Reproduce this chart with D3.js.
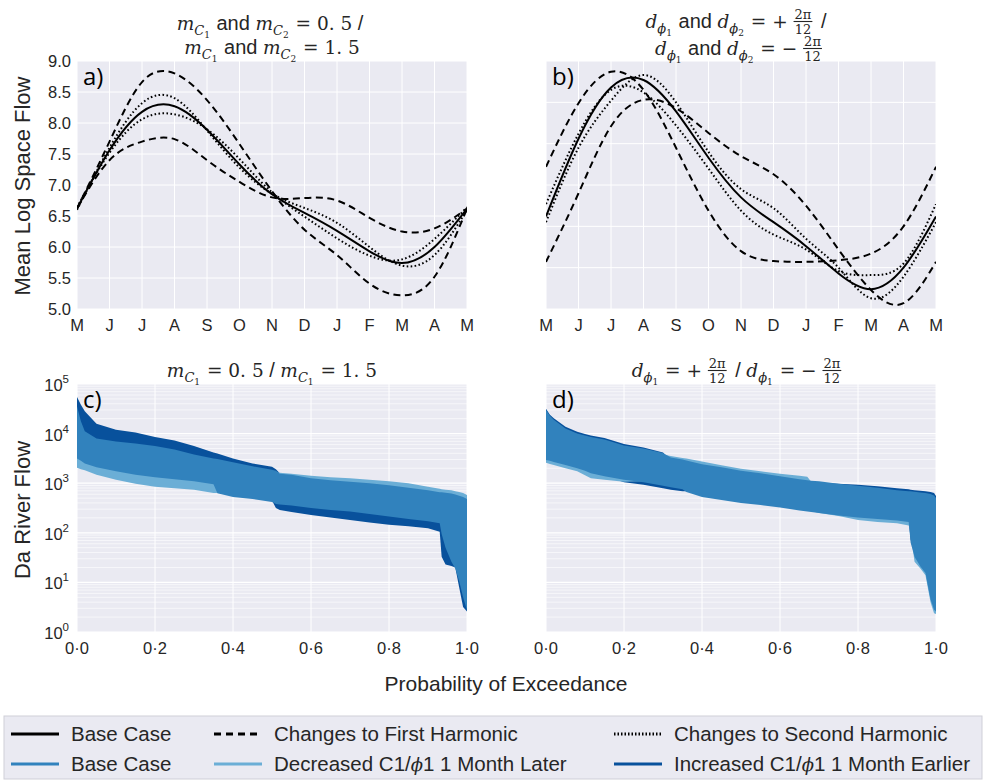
<!DOCTYPE html>
<html lang="en">
<head>
<meta charset="UTF-8">
<title>Seasonal harmonics and flow duration</title>
<script src="https://cdn.jsdelivr.net/npm/d3@7"></script>
<style>
    body { margin: 0; background: #fff; }
    text { fill: #262626; }
    .tick { font-family: "Liberation Sans", Arial, sans-serif; font-size: 16.5px; }
    .axlabel { font-family: "Liberation Sans", Arial, sans-serif; font-size: 21px; }
    .letter { font-family: "Open Sans", sans-serif; font-size: 24px; fill: #000; }
    .legend { font-family: "Liberation Sans", Arial, sans-serif; font-size: 20.5px; }
</style>
</head>
<body>
<svg id="chart" width="985" height="780"></svg>
<script>
// month labels, May to May
const months = ["M", "J", "J", "A", "S", "O", "N", "D", "J", "F", "M", "A", "M"];

// mean log space flow, one value per month tick
const baseCase       = [6.62, 7.56, 8.18, 8.27, 7.89, 7.33, 6.85, 6.55, 6.26, 5.93, 5.74, 6.00, 6.62];
// panel a: amplitude changes
const firstHarmHigh  = [6.62, 7.70, 8.66, 8.80, 8.37, 7.66, 6.90, 6.28, 5.87, 5.41, 5.22, 5.52, 6.62];
const firstHarmLow   = [6.62, 7.40, 7.70, 7.74, 7.40, 7.05, 6.80, 6.79, 6.75, 6.47, 6.25, 6.30, 6.62];
const secondHarmHigh = [6.60, 7.60, 8.32, 8.40, 7.88, 7.28, 6.86, 6.63, 6.39, 6.00, 5.70, 5.87, 6.60];
const secondHarmLow  = [6.64, 7.52, 8.06, 8.14, 7.90, 7.42, 6.88, 6.49, 6.14, 5.86, 5.80, 6.13, 6.64];
// panel b: phase changes
const firstPhaseEarly  = [7.22, 7.99, 8.37, 8.15, 7.45, 6.69, 6.20, 6.08, 6.07, 6.09, 6.17, 6.50, 7.22];
const firstPhaseLate   = [6.07, 6.90, 7.71, 8.03, 7.93, 7.63, 7.35, 7.13, 6.75, 6.22, 5.73, 5.57, 6.07];
const secondPhaseEarly = [6.77, 7.62, 8.15, 8.12, 7.72, 7.20, 6.69, 6.40, 6.22, 5.96, 5.91, 6.05, 6.77];
const secondPhaseLate  = [6.55, 7.45, 8.02, 8.33, 8.00, 7.40, 6.95, 6.72, 6.35, 6.00, 5.63, 5.89, 6.55];

// panel c: flow duration envelopes (min / max flow)
const probC = [0, 0.01, 0.02, 0.05, 0.1, 0.15, 0.2, 0.25, 0.3, 0.35, 0.36, 0.4, 0.45, 0.5, 0.51, 0.52,
               0.55, 0.6, 0.65, 0.7, 0.75, 0.8, 0.85, 0.9, 0.93, 0.935, 0.945, 0.96, 0.97, 0.98, 0.99, 1.0];
const cIncHi  = [55000, 38000, 28200, 15850, 12020, 10470, 8510, 7240, 5620, 4170, 3980, 3160, 2510, 2140, 1900, 1580,
                 1260, 1050, 930, 850, 760, 690, 630, 560, 500, 480, 450, 400, 355, 316, 251, 200];
const cIncLo  = [5000, 4470, 3980, 3160, 2510, 2240, 2000, 1660, 1410, 1120, 1000, 710, 560, 450, 316, 288,
                 263, 229, 204, 182, 162, 145, 135, 123, 105, 33, 23, 21.4, 20, 7.9, 3.2, 2.6];
const cBaseHi = [35500, 17800, 11200, 7940, 6920, 6310, 5620, 4790, 3800, 3160, 3090, 2630, 2190, 1860, 1780, 1550,
                 1480, 1260, 1150, 1070, 1000, 910, 810, 720, 660, 660, 645, 620, 590, 560, 525, 480];
const cBaseLo = [3160, 2820, 2510, 2090, 1740, 1480, 1320, 1200, 1100, 955, 630, 525, 480, 417, 380, 372,
                 355, 316, 288, 269, 240, 214, 190, 170, 155, 95, 50, 26, 19, 10.5, 5, 2.75];
const cDecHi  = [12600, 8900, 7080, 5620, 4790, 4170, 3720, 3310, 2880, 2510, 2450, 2240, 2000, 1780, 1700, 1620,
                 1550, 1410, 1320, 1260, 1170, 1100, 1000, 850, 776, 759, 741, 724, 692, 661, 631, 575];
const cDecLo  = [2040, 1900, 1820, 1480, 1170, 977, 851, 794, 741, 631, 631, 603, 550, 479, 457, 447,
                 427, 398, 372, 355, 331, 302, 282, 251, 229, 200, 141, 79, 50, 25, 10, 6.3];

// panel d
const probD = [0, 0.01, 0.02, 0.05, 0.08, 0.1, 0.115, 0.15, 0.2, 0.25, 0.3, 0.32, 0.35, 0.36, 0.4, 0.45, 0.5, 0.55,
               0.6, 0.65, 0.67, 0.68, 0.7, 0.75, 0.8, 0.85, 0.9, 0.93, 0.935, 0.945, 0.96, 0.973, 0.986, 0.995, 1.0];
const dIncHi  = [31600, 24000, 20400, 13800, 10960, 9770, 9120, 8130, 6170, 5250, 4170, 2820, 2510, 2450, 2140, 1860, 1620, 1450,
                 1260, 1120, 1070, 1050, 1020, 977, 933, 871, 794, 759, 741, 724, 708, 692, 661, 631, 550];
const dIncLo  = [3550, 3310, 3160, 2630, 2290, 2000, 1820, 1410, 1050, 933, 794, 741, 692, 692, 603, 525, 457, 417,
                 380, 339, 324, 316, 302, 269, 240, 219, 200, 182, 72, 45, 26, 19, 6.3, 3.5, 3.2];
const dBaseHi = [30200, 22900, 19050, 12600, 10000, 9120, 8510, 7590, 5750, 5010, 4070, 3310, 3020, 2880, 2400, 2090, 1780, 1580,
                 1380, 1200, 1150, 1120, 1100, 977, 891, 813, 724, 692, 692, 676, 646, 631, 603, 562, 501];
const dBaseLo = [2950, 2820, 2690, 2340, 2000, 1780, 1580, 1380, 1170, 1050, 891, 832, 759, 661, 525, 457, 398, 363,
                 324, 282, 269, 263, 251, 224, 204, 190, 178, 166, 63, 33, 21, 15.5, 4.5, 2.8, 2.6];
const dDecHi  = [19950, 15850, 13200, 9330, 7590, 6920, 6310, 5620, 4680, 4170, 3800, 3550, 3240, 3160, 2750, 2290, 1950, 1740,
                 1550, 1410, 1350, 1070, 1020, 912, 832, 759, 676, 631, 617, 603, 589, 562, 537, 501, 447];
const dDecLo  = [2570, 2450, 2340, 2000, 1740, 1450, 1260, 1175, 1070, 1096, 1000, 955, 891, 832, 708, 575, 479, 417,
                 363, 302, 282, 275, 251, 219, 182, 166, 155, 141, 100, 26, 19, 14, 4, 2.4, 2.3];

const colBase = "#3182bd", colDec = "#6baed6", colInc = "#08519c";

const svg = d3.select("#chart");

// draws a line of mathtext-like title pieces, centred on cx
function mathLine(cx, y, parts) {
    const g = svg.append("g");
    let x = 0;
    const st = {
        i:    { fam: "DejaVu Serif", it: true,  size: 18.5, dy: 0 },
        r:    { fam: "DejaVu Serif", it: false, size: 18.5, dy: 0 },
        s:    { fam: "Liberation Sans", it: false, size: 20, dy: 0 },
        sub:  { fam: "DejaVu Serif", it: true,  size: 13, dy: 4.5 },
        sub2: { fam: "DejaVu Serif", it: false, size: 9, dy: 7.5 }
    };
    parts.forEach(p => {
        if (p.frac) {
            const fs = 13;
            const num = g.append("text").attr("font-family", "DejaVu Serif").attr("font-size", fs)
                .attr("y", y - 9.5).text(p.frac[0]);
            const den = g.append("text").attr("font-family", "DejaVu Serif").attr("font-size", fs)
                .attr("y", y + 5.5).text(p.frac[1]);
            const wn = num.node().getComputedTextLength(), wd = den.node().getComputedTextLength();
            const w = Math.max(wn, wd) + 2;
            num.attr("x", x + (w - wn) / 2);
            den.attr("x", x + (w - wd) / 2);
            g.append("line").attr("x1", x).attr("x2", x + w).attr("y1", y - 6.5).attr("y2", y - 6.5)
                .attr("stroke", "#262626").attr("stroke-width", 1.1);
            x += w + 3;
        } else {
            const s = st[p.k];
            const t = g.append("text").attr("x", x).attr("y", y + s.dy)
                .attr("font-family", s.fam).attr("font-size", s.size)
                .attr("font-style", s.it ? "italic" : "normal")
                .style("white-space", "pre").text(p.t);
            x += t.node().getComputedTextLength() + (p.gap || 0);
        }
    });
    g.attr("transform", `translate(${cx - x / 2},0)`);
}

const mC = n => [{ t: "m", k: "i" }, { t: "C", k: "sub" }, { t: n, k: "sub2", gap: 1 }];
const dPhi = n => [{ t: "d", k: "i" }, { t: "\u03d5", k: "sub" }, { t: n, k: "sub2", gap: 1 }];

// ---------- seasonal panels ----------
function seasonal(p, yDomain, showY, series) {
    svg.append("rect").attr("x", p.x0).attr("y", p.y0).attr("width", p.x1 - p.x0)
        .attr("height", p.y1 - p.y0).attr("fill", "#eaeaf2");
    const x = d3.scaleLinear().domain([0, 12]).range([p.x0, p.x1]);
    const y = d3.scaleLinear().domain(yDomain).range([p.y1, p.y0]);
    const yt = y.ticks(8);

    svg.append("g").selectAll("line").data(months).join("line")
        .attr("x1", (d, i) => x(i)).attr("x2", (d, i) => x(i))
        .attr("y1", p.y0).attr("y2", p.y1).attr("stroke", "#fff").attr("stroke-width", 1);
    svg.append("g").selectAll("line").data(yt).join("line")
        .attr("x1", p.x0).attr("x2", p.x1).attr("y1", d => y(d)).attr("y2", d => y(d))
        .attr("stroke", "#fff").attr("stroke-width", 1);

    svg.append("g").selectAll("text").data(months).join("text").attr("class", "tick")
        .attr("x", (d, i) => x(i)).attr("y", p.y1 + 22).attr("text-anchor", "middle").text(d => d);
    if (showY) {
        svg.append("g").selectAll("text").data(yt).join("text").attr("class", "tick")
            .attr("x", p.x0 - 6).attr("y", d => y(d) + 6).attr("text-anchor", "end")
            .text(d3.format(".1f"));
    }

    const id = "clip" + p.x0 + "_" + p.y0;
    svg.append("clipPath").attr("id", id).append("rect")
        .attr("x", p.x0).attr("y", p.y0).attr("width", p.x1 - p.x0).attr("height", p.y1 - p.y0);
    const line = d3.line().x((d, i) => x(i)).y(d => y(d)).curve(d3.curveNatural);
    const g = svg.append("g").attr("clip-path", `url(#${id})`);
    series.forEach(s => {
        g.append("path").attr("d", line(s.v)).attr("fill", "none").attr("stroke", "#000")
            .attr("stroke-width", 2).attr("stroke-dasharray", s.dash);
    });
}

const pA = { x0: 77, x1: 467, y0: 61, y1: 309 };
const pB = { x0: 546, x1: 936, y0: 61, y1: 309 };
const pC = { x0: 77, x1: 467, y0: 384, y1: 632 };
const pD = { x0: 546, x1: 936, y0: 384, y1: 632 };

const dashed = "7,4.5", dotted = "1.6,2.4";
seasonal(pA, [5, 9], true, [
    { v: firstHarmHigh, dash: dashed }, { v: firstHarmLow, dash: dashed },
    { v: secondHarmHigh, dash: dotted }, { v: secondHarmLow, dash: dotted },
    { v: baseCase, dash: null }
]);
seasonal(pB, [5.5, 8.5], false, [
    { v: firstPhaseEarly, dash: dashed }, { v: firstPhaseLate, dash: dashed },
    { v: secondPhaseEarly, dash: dotted }, { v: secondPhaseLate, dash: dotted },
    { v: baseCase, dash: null }
]);

// ---------- flow duration panels ----------
function fdc(p, probs, bands, showY) {
    svg.append("rect").attr("x", p.x0).attr("y", p.y0).attr("width", p.x1 - p.x0)
        .attr("height", p.y1 - p.y0).attr("fill", "#eaeaf2");
    const x = d3.scaleLinear().domain([0, 1]).range([p.x0, p.x1]);
    const y = d3.scaleLog().domain([1, 1e5]).range([p.y1, p.y0]);
    const yt = y.ticks();
    const major = d => Math.abs(Math.log10(d) - Math.round(Math.log10(d))) < 1e-9;

    svg.append("g").selectAll("line").data(yt).join("line")
        .attr("x1", p.x0).attr("x2", p.x1).attr("y1", d => y(d)).attr("y2", d => y(d))
        .attr("stroke", "#fff").attr("stroke-width", d => major(d) ? 1.2 : 0.6);
    svg.append("g").selectAll("line").data(x.ticks(5)).join("line")
        .attr("x1", d => x(d)).attr("x2", d => x(d)).attr("y1", p.y0).attr("y2", p.y1)
        .attr("stroke", "#fff").attr("stroke-width", 1);

    svg.append("g").selectAll("text").data(x.ticks(5)).join("text").attr("class", "tick")
        .attr("x", d => x(d)).attr("y", p.y1 + 22).attr("text-anchor", "middle")
        .text(d => d3.format(".1f")(d).replace(".", "\u00b7"));
    if (showY) {
        const t = svg.append("g").selectAll("text").data(yt.filter(major)).join("text").attr("class", "tick")
            .attr("x", p.x0 - 8).attr("y", d => y(d) + 7).attr("text-anchor", "end");
        t.append("tspan").text("10");
        t.append("tspan").attr("dy", -8).attr("font-size", 11.5).text(d => Math.round(Math.log10(d)));
    }

    const area = d3.area().x(d => x(d.p)).y0(d => y(d.lo)).y1(d => y(d.hi));
    bands.forEach(b => {
        const rows = probs.map((pr, i) => ({ p: pr, lo: b.lo[i], hi: b.hi[i] }));
        svg.append("path").attr("d", area(rows)).attr("fill", b.col).attr("stroke", "none");
    });
}

fdc(pC, probC, [
    { lo: cIncLo, hi: cIncHi, col: colInc },
    { lo: cDecLo, hi: cDecHi, col: colDec },
    { lo: cBaseLo, hi: cBaseHi, col: colBase }
], true);
fdc(pD, probD, [
    { lo: dIncLo, hi: dIncHi, col: colInc },
    { lo: dDecLo, hi: dDecHi, col: colDec },
    { lo: dBaseLo, hi: dBaseHi, col: colBase }
], false);

// panel letters
[["a)", pA], ["b)", pB], ["c)", pC], ["d)", pD]].forEach(([l, p]) => {
    svg.append("text").attr("class", "letter").attr("x", p.x0 + 6).attr("y", p.y0 + 24).text(l);
});

// titles
mathLine(270, 30, [...mC("1"), { t: " and ", k: "s" }, ...mC("2"), { t: " = 0. 5", k: "r" }, { t: " /", k: "s" }]);
mathLine(272, 54, [...mC("1"), { t: " and ", k: "s" }, ...mC("2"), { t: " = 1. 5", k: "r" }]);
mathLine(736, 28, [...dPhi("1"), { t: " and ", k: "s" }, ...dPhi("2"), { t: " = + ", k: "r" },
    { frac: ["2\u03c0", "12"] }, { t: " /", k: "s" }]);
mathLine(740, 55, [...dPhi("1"), { t: " and ", k: "s" }, ...dPhi("2"), { t: " = \u2212 ", k: "r" },
    { frac: ["2\u03c0", "12"] }]);
mathLine(272, 377, [...mC("1"), { t: " = 0. 5", k: "r" }, { t: " / ", k: "s" }, ...mC("1"), { t: " = 1. 5", k: "r" }]);
mathLine(738, 377, [...dPhi("1"), { t: " = + ", k: "r" }, { frac: ["2\u03c0", "12"] }, { t: " / ", k: "s" },
    ...dPhi("1"), { t: " = \u2212 ", k: "r" }, { frac: ["2\u03c0", "12"] }]);

// axis labels
svg.append("text").attr("class", "axlabel").attr("transform", "translate(30,186) rotate(-90)")
    .attr("text-anchor", "middle").style("font-size", "22px").text("Mean Log Space Flow");
svg.append("text").attr("class", "axlabel").attr("transform", "translate(30,510) rotate(-90)")
    .attr("text-anchor", "middle").style("font-size", "22px").text("Da River Flow");
svg.append("text").attr("class", "axlabel").attr("x", 506).attr("y", 691)
    .attr("text-anchor", "middle").text("Probability of Exceedance");

// legend
const legendItems = [
    { label: "Base Case", col: "#000", dash: null },
    { label: "Changes to First Harmonic", col: "#000", dash: "7,5" },
    { label: "Changes to Second Harmonic", col: "#000", dash: "1.5,2" },
    { label: "Base Case", col: colBase, dash: null },
    { label: "Decreased C1/\u03d51 1 Month Later", col: colDec, dash: null },
    { label: "Increased C1/\u03d51 1 Month Earlier", col: colInc, dash: null }
];
svg.append("rect").attr("x", 4).attr("y", 716).attr("width", 978).attr("height", 63)
    .attr("fill", "#eaeaf2").attr("stroke", "#cfcfd8").attr("stroke-width", 1);
const colX = [11, 214, 614];
const lg = svg.append("g").selectAll("g").data(legendItems).join("g")
    .attr("transform", (d, i) => `translate(${colX[i % 3]},${i < 3 ? 734 : 764})`);
lg.append("line").attr("x1", 0).attr("x2", 48).attr("stroke", d => d.col)
    .attr("stroke-width", 3).attr("stroke-dasharray", d => d.dash);
lg.each(function (d) {
    const t = d3.select(this).append("text").attr("class", "legend").attr("x", 60).attr("y", 7);
    const parts = d.label.split("\u03d5");
    t.append("tspan").text(parts[0]);
    if (parts.length > 1) {
        t.append("tspan").attr("font-family", "DejaVu Serif").attr("font-style", "italic").attr("font-size", 18).text("\u03d5");
        t.append("tspan").text(parts[1]);
    }
});
</script>
</body>
</html>
